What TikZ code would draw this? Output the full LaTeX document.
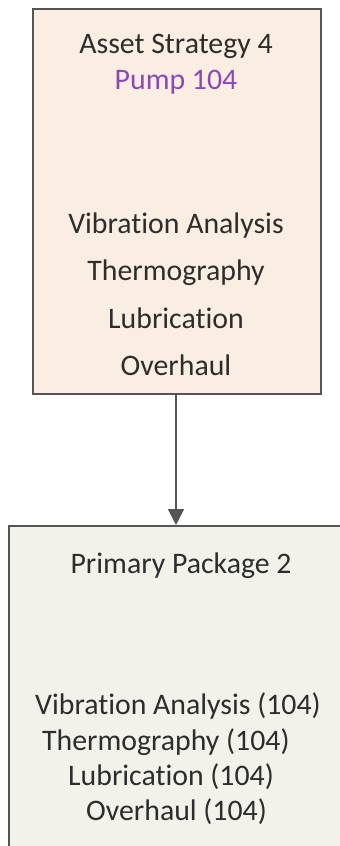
\documentclass[tikz,border=0pt]{standalone}
\usepackage{fontspec}
\setmainfont{Carlito}[Ligatures={NoCommon}]
\usetikzlibrary{arrows.meta}
\definecolor{topfill}{RGB}{250,237,226}
\definecolor{botfill}{RGB}{242,242,234}
\definecolor{edgegray}{RGB}{85,85,85}
\definecolor{txtgray}{RGB}{45,45,45}
\definecolor{pumppurple}{RGB}{140,72,185}
\tikzset{
  boxA/.style={draw=edgegray, line width=1.6pt, fill=topfill},
  boxB/.style={draw=edgegray, line width=1.6pt, fill=botfill},
  lbl/.style={font=\fontsize{29.8}{35}\selectfont, text=txtgray, inner sep=0pt, anchor=base},
  lblw/.style={lbl, anchor=base west},
  conn/.style={draw=edgegray, line width=1.6pt, -{Triangle[length=16pt,width=16pt]}}
}
\begin{document}
\begin{tikzpicture}[x=1pt,y=-1pt]
\useasboundingbox (0,0) rectangle (340,846);
\clip (0,0) rectangle (340,846);
\node[boxA, minimum width=288pt, minimum height=385pt, anchor=north west, inner sep=0pt] (top) at (32,8) {};
\node[boxB, minimum width=350pt, minimum height=360pt, anchor=north west, inner sep=0pt] (bot) at (8,525) {};
\draw[conn] (top.south -| 176,0) -- (bot.north -| 176,0);
\node[lbl] (t1) at (176,53) {Asset Strategy 4};
\node[lbl, text=pumppurple] (t2) at (176,89) {Pump 104};
\node[lbl] (t3) at (176,233) {Vibration Analysis};
\node[lbl] (t4) at (176,280) {Thermography};
\node[lbl] (t5) at (176,328) {Lubrication};
\node[lbl] (t6) at (176,375) {Overhaul};
\node[lbl] (b1) at (181,573) {Primary Package 2};
\node[lblw] (b2) at (35,714) {Vibration Analysis (104)};
\node[lblw] (b3) at (42,750) {Thermography (104)};
\node[lblw] (b4) at (68,785) {Lubrication (104)};
\node[lblw] (b5) at (86,820) {Overhaul (104)};
\end{tikzpicture}
\end{document}
